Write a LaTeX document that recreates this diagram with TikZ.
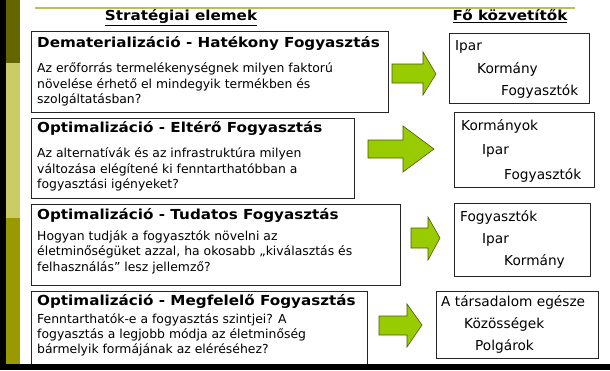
\documentclass[tikz,border=0pt]{standalone}
\usepackage{fontspec}
\setmainfont{DejaVu Sans}
\newfontfamily\widebold[FakeStretch=1.1]{DejaVu Sans Bold}
\begin{document}
\begin{tikzpicture}[x=1pt,y=-1pt,
  box/.style={draw=black!85,line width=0.8pt,fill=white,inner sep=0pt,anchor=north west},
  ttl/.style={anchor=mid west,inner sep=0pt,font=\fontsize{13.8}{16}\widebold},
  body/.style={anchor=mid west,inner sep=0pt,font=\fontsize{12.4}{14}\selectfont},
  rtx/.style={anchor=mid west,inner sep=0pt,font=\fontsize{13.7}{15}\selectfont},
  head/.style={anchor=mid,inner sep=0pt,font=\fontsize{13.8}{16}\widebold},
  garrow/.style={fill=arrowgreen,draw=arrowedge,line width=0.6pt,line join=miter}]
\definecolor{darkolive}{HTML}{666600}
\definecolor{lightolive}{HTML}{CCCC66}
\definecolor{midolive}{HTML}{999900}
\definecolor{topline}{HTML}{BDBD5A}
\definecolor{arrowgreen}{HTML}{99CC00}
\definecolor{arrowedge}{HTML}{4A5A00}
\useasboundingbox (0,0) rectangle (610,370);
\fill[white] (0,0) rectangle (610,370);
% left bar
\fill[black] (0,0) rectangle (6,370);
\fill[darkolive] (6,0) rectangle (20,63);
\fill[lightolive] (6,63) rectangle (20,218);
\fill[midolive] (6,218) rectangle (20,370);
% top line
\draw[topline,line width=2pt] (35,8) -- (575,8);
% headings
\node[head] (h1) at (181,18) {\underline{Stratégiai elemek}};
\node[head] (h2) at (510,18) {\underline{Fő közvetítők}};
% left boxes
\node[box,minimum width=357,minimum height=81] (b1) at (31,31) {};
\node[ttl] (t1) at (37,45) {Dematerializáció - Hatékony Fogyasztás};
\node[body] (l11) at (37,70) {Az erőforrás termelékenységnek milyen faktorú};
\node[body] (l12) at (37,86) {növelése érhető el mindegyik termékben és};
\node[body] (l13) at (37,101) {szolgáltatásban?};

\node[box,minimum width=323,minimum height=80] (b2) at (31,118) {};
\node[ttl] (t2) at (37,130) {Optimalizáció - Eltérő Fogyasztás};
\node[body] (l21) at (37,155) {Az alternatívák és az infrastruktúra milyen};
\node[body] (l22) at (37,171) {változása elégítené ki fenntarthatóbban a};
\node[body] (l23) at (37,186) {fogyasztási igényeket?};

\node[box,minimum width=369,minimum height=81] (b3) at (31,204) {};
\node[ttl] (t3) at (37,217) {Optimalizáció - Tudatos Fogyasztás};
\node[body] (l31) at (37,238) {Hogyan tudják a fogyasztók növelni az};
\node[body] (l32) at (37,253) {életminőségüket azzal, ha okosabb „kiválasztás és};
\node[body] (l33) at (37,269) {felhasználás” lesz jellemző?};

\node[box,minimum width=336,minimum height=74] (b4) at (31,291) {};
\node[ttl] (t4) at (37,303) {Optimalizáció - Megfelelő Fogyasztás};
\node[body] (l41) at (37,321) {Fenntarthatók-e a fogyasztás szintjei? A};
\node[body] (l42) at (37,336) {fogyasztás a legjobb módja az életminőség};
\node[body] (l43) at (37,351) {bármelyik formájának az eléréséhez?};

% right boxes
\node[box,minimum width=140,minimum height=70] (r1) at (449,33) {};
\node[rtx] (r11) at (455,48) {Ipar};
\node[rtx] (r12) at (477,71) {Kormány};
\node[rtx] (r13) at (501,93) {Fogyasztók};

\node[box,minimum width=140,minimum height=75] (r2) at (454,112) {};
\node[rtx] (r21) at (461,128) {Kormányok};
\node[rtx] (r22) at (482,152) {Ipar};
\node[rtx] (r23) at (504,177) {Fogyasztók};

\node[box,minimum width=136,minimum height=73] (r3) at (454,203) {};
\node[rtx] (r31) at (460,219) {Fogyasztók};
\node[rtx] (r32) at (482,241) {Ipar};
\node[rtx] (r33) at (504,263) {Kormány};

\node[box,minimum width=162,minimum height=67] (r4) at (436,291) {};
\node[rtx] (r41) at (441,304) {A társadalom egésze};
\node[rtx] (r42) at (464,326) {Közösségek};
\node[rtx] (r43) at (475,348) {Polgárok};

% block arrows
\draw[garrow] (392,64) -- (423,64) -- (423,52) -- (436,74) -- (423,95) -- (423,83) -- (392,83) -- cycle;
\draw[garrow] (368,140) -- (403,140) -- (403,126) -- (434,149) -- (403,172) -- (403,158) -- (368,158) -- cycle;
\draw[garrow] (411,228) -- (428,228) -- (428,217) -- (440,238) -- (428,260) -- (428,248) -- (411,248) -- cycle;
\draw[garrow] (379,316) -- (407,316) -- (407,304) -- (422,325) -- (407,347) -- (407,335) -- (379,335) -- cycle;

% bottom bar
\fill[black] (0,364) rectangle (610,370);
\end{tikzpicture}
\end{document}
